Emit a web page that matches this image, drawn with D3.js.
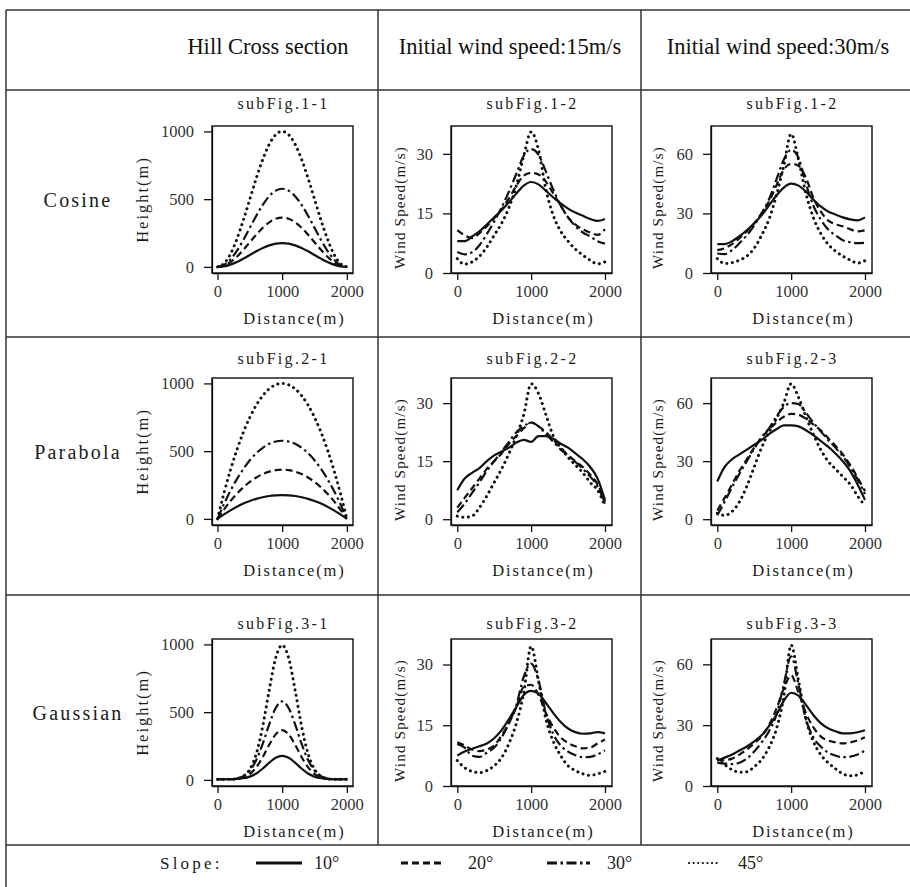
<!DOCTYPE html>
<html><head><meta charset="utf-8">
<script src="https://cdn.jsdelivr.net/npm/d3@7"></script>
<style>body{margin:0;background:#fff}</style>
</head><body>
<svg id="c" width="910" height="887"></svg>
<script>
// ---------- data ----------
const distance = [0,100,200,300,400,500,600,700,800,900,1000,1100,1200,1300,1400,1500,1600,1700,1800,1900,2000];
const slopes = ["10°","20°","30°","45°"];
const rowNames = ["Cosine","Parabola","Gaussian"];
const colHeaders = ["Hill Cross section","Initial wind speed:15m/s","Initial wind speed:30m/s"];
const subTitles = [["subFig.1-1","subFig.1-2","subFig.1-2"],["subFig.2-1","subFig.2-2","subFig.2-3"],["subFig.3-1","subFig.3-2","subFig.3-3"]];
const xTickValues = [0,1000,2000];
const heightTicks = [0,500,1000];
const wind15Ticks = [0,15,30];
const wind30Ticks = [0,30,60];

// hill cross sections (height, m), series order 10°,20°,30°,45°
const hillCosine = [
 [0,4,17,36,61,88,115,140,159,172,176,172,159,140,115,88,61,36,17,4,0],
 [0,9,35,75,126,182,238,289,329,355,364,355,329,289,238,182,126,75,35,9,0],
 [0,14,55,119,199,289,378,458,522,563,577,563,522,458,378,289,199,119,55,14,0],
 [0,25,95,206,345,500,655,794,905,976,1000,976,905,794,655,500,345,206,95,25,0]
];
const hillParabola = [
 [0,33,63,90,113,132,148,160,169,174,176,174,169,160,148,132,113,90,63,33,0],
 [0,69,131,186,233,273,306,331,349,360,364,360,349,331,306,273,233,186,131,69,0],
 [0,110,208,294,369,433,485,525,554,571,577,571,554,525,485,433,369,294,208,110,0],
 [0,190,360,510,640,750,840,910,960,990,1000,990,960,910,840,750,640,510,360,190,0]
];
const hillGaussian = [
 [5,5,5,7,12,24,47,84,127,164,178,164,127,84,47,24,12,7,5,5,5],
 [5,5,5,8,18,44,93,169,259,336,368,336,259,169,93,44,18,8,5,5,5],
 [5,5,5,11,28,69,147,267,410,531,580,531,410,267,147,69,28,11,5,5,5],
 [5,5,5,8,26,79,193,397,663,900,995,900,663,397,193,79,26,8,5,5,5]
];
// wind speed (m/s)
const windCosine15 = [
 [8.0,8.0,9.2,10.5,12.2,14.0,15.8,17.8,20.0,22.0,22.9,22.3,20.7,19.0,17.5,16.2,15.2,14.4,13.6,13.1,13.6],
 [10.8,9.5,8.8,10.0,11.8,13.8,16.0,18.8,22.0,24.5,25.2,24.8,23.0,20.0,17.0,14.0,12.2,11.0,10.2,9.6,11.0],
 [5.3,4.7,5.2,7.0,9.8,13.0,16.5,20.5,25.0,29.5,31.2,29.8,25.5,21.0,17.0,14.0,11.8,10.2,9.2,8.0,7.4],
 [3.6,2.2,2.8,4.2,6.5,9.5,12.5,16.5,22.0,29.5,35.5,31.0,21.0,14.5,10.5,8.0,6.0,4.5,3.2,2.3,2.8]
];
const windCosine30 = [
 [14.5,14.5,16.0,18.5,21.5,25.0,29.0,34.0,39.0,43.0,45.0,44.0,41.0,37.0,33.5,31.0,29.5,28.0,27.0,26.5,28.0],
 [11.5,12.5,14.5,17.5,21.0,25.0,30.0,36.0,44.0,52.0,55.0,54.0,48.0,38.0,31.0,26.5,24.5,23.5,22.0,21.0,21.5],
 [9.8,9.5,11.5,15.0,19.0,24.0,30.0,37.0,47.0,57.0,62.0,58.0,45.0,34.0,27.0,22.0,19.0,16.5,15.5,15.0,15.2],
 [7.3,4.8,5.2,6.5,8.5,12.5,19.0,27.0,39.0,54.0,70.0,57.0,40.0,28.0,20.0,14.5,11.0,8.5,6.5,5.0,6.2]
];
const windParabola15 = [
 [7.5,10.5,12.0,13.2,15.0,16.5,17.5,18.5,19.8,20.5,20.0,21.5,21.5,20.8,19.5,18.5,17.0,15.5,13.5,10.5,5.0],
 [3.0,5.5,8.0,10.5,13.0,15.0,17.0,19.5,21.5,23.5,25.0,24.0,22.5,20.5,18.5,16.5,15.0,13.5,11.5,9.0,4.5],
 [1.8,4.0,6.8,9.5,12.5,15.0,17.5,20.0,22.5,24.0,25.0,24.0,22.0,20.0,18.0,16.5,14.8,13.0,11.0,8.5,4.0],
 [0.8,0.5,0.8,3.0,6.0,9.5,13.0,17.0,21.5,27.0,35.0,32.5,27.0,21.5,18.5,16.0,14.0,12.0,9.5,7.5,3.5]
];
const windParabola30 = [
 [19.5,27.0,31.0,33.5,36.0,38.5,41.0,44.0,46.5,48.5,48.5,48.0,46.0,43.5,40.5,37.5,34.0,30.0,25.0,18.0,10.0],
 [4.5,11.0,18.0,25.0,31.0,37.0,42.0,46.5,50.0,53.0,54.5,54.0,52.0,49.0,46.0,42.0,38.0,33.5,28.0,21.5,14.5],
 [2.0,9.0,16.5,23.5,30.0,36.5,42.5,47.0,53.0,58.0,60.0,59.5,55.0,50.0,45.5,41.0,37.0,32.5,27.0,20.5,13.0],
 [3.0,2.0,4.0,9.0,17.0,27.0,37.0,45.0,52.0,60.0,70.0,63.0,53.0,44.0,36.0,30.0,26.0,22.0,18.0,12.0,7.0]
];
const windGaussian15 = [
 [7.5,8.5,9.2,9.8,10.5,11.8,13.8,16.5,19.5,22.5,23.5,22.8,20.5,18.0,15.8,14.2,13.3,12.9,13.0,13.3,13.0],
 [10.8,10.0,9.0,8.6,9.0,10.0,12.5,15.5,19.5,24.5,25.0,22.5,18.0,14.5,12.0,10.6,9.8,9.3,9.5,10.5,11.5],
 [10.4,9.5,7.5,7.2,8.2,9.5,12.0,15.5,20.0,27.0,30.2,26.0,18.0,12.8,10.0,8.5,7.6,7.1,7.2,7.8,8.8],
 [6.3,4.5,3.6,3.3,3.8,5.0,7.0,10.5,15.5,23.0,34.5,26.0,16.5,11.0,7.5,5.0,3.8,3.0,2.6,3.0,3.6]
];
const windGaussian30 = [
 [12.5,14.0,15.5,17.5,19.5,22.0,25.0,29.5,35.0,42.0,46.0,44.5,40.0,35.0,31.0,28.5,27.0,26.0,26.0,26.5,27.5],
 [13.0,12.8,13.5,15.5,18.0,21.0,24.5,30.0,38.0,48.0,54.5,46.0,36.0,29.0,24.5,22.5,21.5,21.0,21.5,22.5,24.0],
 [11.5,11.0,10.8,11.5,13.5,17.0,21.5,27.0,35.0,50.0,64.0,50.0,33.0,24.0,19.5,16.5,15.0,14.2,14.5,15.5,17.5],
 [13.5,10.5,8.0,6.8,7.0,9.5,13.0,19.0,28.0,44.0,69.5,52.0,33.0,22.0,15.5,11.5,8.5,6.0,5.0,5.5,7.5]
];

// ---------- layout / style ----------
const svg = d3.select("#c");
const colBox = [[212,353],[451,612],[711,872]];
const rowBox = [[126,273],[378,525],[639,786]];
const titleY = [103,358,623];
const dashes = [null, "7,4", "10,3.5,2.5,3.5", "0.1,5.5"];
const widths = [2.2, 2.2, 2.2, 3];
const SERIF = "'Liberation Serif', 'Times New Roman', serif";
const INK = "#111";

function label(sel, size, spacing) {
  return sel.attr("font-family",SERIF).attr("font-size",size).attr("letter-spacing",spacing).attr("fill","#1a1a1a");
}

// table grid
const gl = svg.append("g").attr("stroke","#333").attr("stroke-width",1.5);
[10,90,337,595,845].forEach(yy => gl.append("line").attr("x1",6).attr("x2",910).attr("y1",yy).attr("y2",yy));
gl.append("line").attr("x1",6).attr("x2",6).attr("y1",10).attr("y2",887);
[378,641].forEach(xx => gl.append("line").attr("x1",xx).attr("x2",xx).attr("y1",10).attr("y2",845));

// headers
const headerX = [268,510,778];
colHeaders.forEach((h,i) => svg.append("text").attr("x",headerX[i]).attr("y",46)
  .attr("text-anchor","middle").attr("dominant-baseline","central")
  .attr("font-family",SERIF).attr("font-size",22.5).attr("fill","#111").text(h));

// row labels
rowNames.forEach((n,r) => label(svg.append("text").attr("x",78).attr("y",(rowBox[r][0]+rowBox[r][1])/2)
  .attr("text-anchor","middle").attr("dominant-baseline","central"), 20, 2.2).text(n));

const plots = [
  [[hillCosine,[-45,1040],heightTicks,"Height(m)"],[windCosine15,[0,37],wind15Ticks,"Wind Speed(m/s)"],[windCosine30,[0,74],wind30Ticks,"Wind Speed(m/s)"]],
  [[hillParabola,[-45,1040],heightTicks,"Height(m)"],[windParabola15,[-1.5,36.5],wind15Ticks,"Wind Speed(m/s)"],[windParabola30,[-3,73],wind30Ticks,"Wind Speed(m/s)"]],
  [[hillGaussian,[-45,1040],heightTicks,"Height(m)"],[windGaussian15,[0,36.3],wind15Ticks,"Wind Speed(m/s)"],[windGaussian30,[0,72.5],wind30Ticks,"Wind Speed(m/s)"]]
];

plots.forEach((row,r) => row.forEach((p,c) => {
  const [series, yDom, yTicks, yLab] = p;
  const [L,R] = colBox[c], [T,B] = rowBox[r];
  const x = d3.scaleLinear().domain([-85,2095]).range([L,R]);
  const y = d3.scaleLinear().domain(yDom).range([B,T]);
  const g = svg.append("g");
  const cid = `clip${r}${c}`;
  g.append("clipPath").attr("id",cid).append("rect").attr("x",L).attr("y",T).attr("width",R-L).attr("height",B-T);

  const line = d3.line().x((d,i)=>x(distance[i])).y(d=>y(d)).curve(d3.curveMonotoneX);
  const lg = g.append("g").attr("clip-path",`url(#${cid})`);
  series.forEach((s,k) => {
    lg.append("path").datum(s).attr("d",line).attr("fill","none").attr("stroke",INK)
      .attr("stroke-width",widths[k]).attr("stroke-linecap", k===3?"round":"butt")
      .attr("stroke-linejoin","round")
      .attr("stroke-dasharray",dashes[k]);
  });

  const xa = g.append("g").attr("transform",`translate(0,${B})`)
    .call(d3.axisBottom(x).tickValues(xTickValues).tickFormat(d3.format("d")).tickSize(7).tickPadding(5).tickSizeOuter(0));
  const ya = g.append("g").attr("transform",`translate(${L},0)`)
    .call(d3.axisLeft(y).tickValues(yTicks).tickFormat(d3.format("d")).tickSize(8).tickPadding(10).tickSizeOuter(0));
  [xa,ya].forEach(a => {
    a.attr("font-family",SERIF);
    a.selectAll("text").attr("font-family",SERIF).attr("font-size",16.5).attr("fill","#333");
    a.selectAll("line,path").attr("stroke",INK).attr("stroke-width",1.3);
  });

  g.append("rect").attr("x",L).attr("y",T).attr("width",R-L).attr("height",B-T)
    .attr("fill","none").attr("stroke",INK).attr("stroke-width",1.4);

  // subtitle
  label(g.append("text").attr("x",(L+R)/2+1).attr("y",titleY[r]).attr("text-anchor","middle").attr("dominant-baseline","central"), 16, 2.3)
    .text(subTitles[r][c]);
  // x title
  label(g.append("text").attr("x",(L+R)/2+12).attr("y",B+45).attr("text-anchor","middle").attr("dominant-baseline","central"), 16.5, 1.9)
    .text("Distance(m)");
  // y title
  const yx = [142,400,658][c];
  const yc = (T+B)/2 + (c===0?0:8);
  label(g.append("text").attr("transform",`translate(${yx},${yc}) rotate(-90)`).attr("text-anchor","middle").attr("dominant-baseline","central"),
    c===0?16.5:15, c===0?2.0:1.2).text(yLab);
}));

// legend
const legY = 863;
label(svg.append("text").attr("x",160).attr("y",legY).attr("dominant-baseline","central"), 17, 3.2).text("Slope:");
const legSample = [[256,302],[401,445],[547,590],[689,721]];
const legText = [314,468,607,738];
slopes.forEach((s,k) => {
  svg.append("line").attr("x1",legSample[k][0]).attr("x2",legSample[k][1]).attr("y1",legY).attr("y2",legY)
    .attr("stroke",INK).attr("stroke-width",k===3?2.2:3).attr("stroke-linecap",k===3?"round":"butt")
    .attr("stroke-dasharray",k===3?"0.1,4.5":dashes[k]);
  svg.append("text").attr("x",legText[k]).attr("y",legY).attr("dominant-baseline","central")
    .attr("font-family",SERIF).attr("font-size",18).attr("fill","#222").text(s);
});
</script>
</body></html>
